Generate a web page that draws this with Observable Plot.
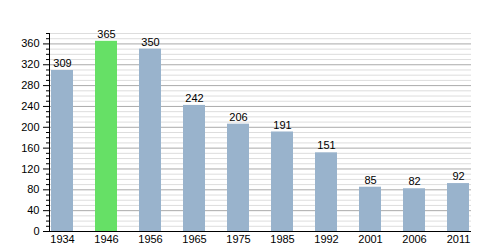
<!DOCTYPE html>
<html>
<head>
<meta charset="utf-8">
<script src="https://cdn.jsdelivr.net/npm/d3@7"></script>
<script src="https://cdn.jsdelivr.net/npm/@observablehq/plot@0.6"></script>
<style>
  html, body { margin: 0; padding: 0; background: #fff; }
  #chart svg { display: block; }
</style>
</head>
<body>
<div id="chart"></div>
<script>
const years = ["1934", "1946", "1956", "1965", "1975", "1985", "1992", "2001", "2006", "2011"];
const population = [309, 365, 350, 242, 206, 191, 151, 85, 82, 92];
const highlightYear = "1946";
const majorTicks = [0, 40, 80, 120, 160, 200, 240, 280, 320, 360];
const minorTicks = [10, 20, 30, 50, 60, 70, 90, 100, 110, 130, 140, 150, 170, 180, 190, 210, 220, 230, 250, 260, 270, 290, 300, 310, 330, 340, 350, 370, 380];

const data = years.map((year, i) => ({year, value: population[i]}));
const BLUE = "#99b3cc";
const GREEN = "#66e066";

const chart = Plot.plot({
  width: 500,
  height: 250,
  marginTop: 33,
  marginBottom: 19,
  marginLeft: 49,
  marginRight: 29,
  style: {fontFamily: "'Liberation Sans', Arial, sans-serif", fontSize: "11px", color: "#000", background: "#fff"},
  x: {type: "band", domain: years, paddingInner: 0.5, paddingOuter: 0, align: 0.5},
  y: {domain: [0, 380]},
  marks: [
    Plot.gridY(minorTicks, {stroke: "#dddddd", strokeOpacity: 1}),
    Plot.gridY(majorTicks, {stroke: "#aaaaaa", strokeOpacity: 1}),
    Plot.barY(data, {x: "year", y: "value", fill: d => d.year === highlightYear ? GREEN : BLUE}),
    Plot.text(data, {x: "year", y: "value", text: d => String(d.value), dy: -7, fill: "#000", fontSize: 11}),
    Plot.axisY(majorTicks, {tickSize: 6, tickPadding: 4, label: null, stroke: "#000", fill: "#000", fontSize: 11}),
    Plot.axisY(minorTicks, {tickSize: 3, text: null, label: null, stroke: "#000"}),
    Plot.axisX({tickSize: 0, tickPadding: 4, label: null, fill: "#000", fontSize: 11}),
    Plot.ruleY([0], {stroke: "#000"}),
    Plot.frame({anchor: "left", stroke: "#000"})
  ]
});
document.getElementById("chart").appendChild(chart);
</script>
</body>
</html>
